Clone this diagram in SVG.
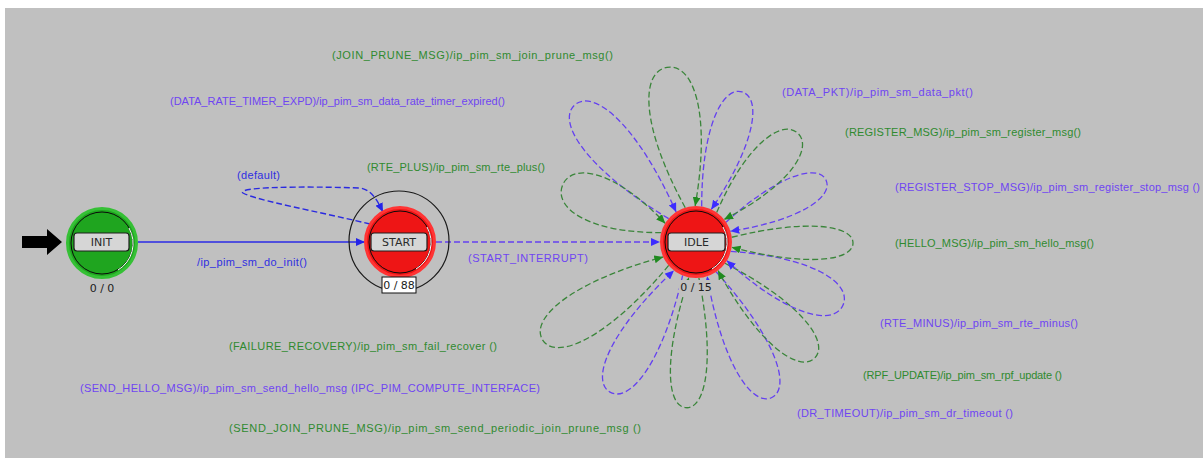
<svg xmlns="http://www.w3.org/2000/svg" width="1203" height="463" viewBox="0 0 1203 463">
<style>
.lbl{font-family:"Liberation Sans",Arial,sans-serif;font-size:11px}
.pu{fill:#6f45f2}
.gr{fill:#2f8a2f}
.bl{fill:#2f2fe0}
.ppath{fill:none;stroke:#6440f0;stroke-width:1.3;stroke-dasharray:6 3;marker-end:url(#ap)}
.gpath{fill:none;stroke:#3a853a;stroke-width:1.3;stroke-dasharray:6 3;marker-end:url(#ag)}
.box{fill:#d6d6d6;stroke:#1e1e1e;stroke-width:1.2}
.nlbl{font-family:"DejaVu Sans","Liberation Sans",sans-serif;font-size:11px;fill:#2a2a2a;text-anchor:middle}
.cnt{font-family:"DejaVu Sans","Liberation Sans",sans-serif;font-size:11px;fill:#202020;text-anchor:middle}
</style>
<defs>
<marker id="ap" markerWidth="9" markerHeight="8" refX="9" refY="4" orient="auto" markerUnits="userSpaceOnUse"><path d="M0,0L9,4L0,8z" fill="#3c2cff"/></marker>
<marker id="ag" markerWidth="9" markerHeight="8" refX="9" refY="4" orient="auto" markerUnits="userSpaceOnUse"><path d="M0,0L9,4L0,8z" fill="#1f8a1f"/></marker>
<marker id="ab" markerWidth="9" markerHeight="8" refX="9" refY="4" orient="auto" markerUnits="userSpaceOnUse"><path d="M0,0L9,4L0,8z" fill="#2424e8"/></marker>
</defs>
<rect x="0" y="0" width="1203" height="463" fill="#ffffff"/>
<rect x="5" y="8" width="1198" height="450" fill="#c0c0c0"/>

<g id="connectors">
<polygon points="22,236 47,236 47,229 62,242 47,255 47,248 22,248" fill="#000"/>
<line x1="138" y1="242" x2="365" y2="242" stroke="#2a2ae6" stroke-width="1.3" marker-end="url(#ab)"/>
<path d="M370,224 C320,212 255,200 243,193 C236,187 300,186 360,188 C372,190 377,200 383,212" fill="none" stroke="#2a2ae0" stroke-width="1.4" stroke-dasharray="6 3" marker-end="url(#ab)"/>
<line x1="436" y1="242" x2="660" y2="242" class="ppath"/>
<g transform="translate(696,242)">
<path class="gpath" transform="rotate(-99.4)" d="M35.6,-5C124,-36 177,-27 177,0C177,27 124,36 35.6,5"/>
<path class="ppath" transform="rotate(-131.5)" d="M35.6,-5C128,-34 183,-25 183,0C183,25 128,34 35.6,5"/>
<path class="gpath" transform="rotate(-156.8)" d="M35.6,-5C102,-34 145,-25 145,0C145,25 102,34 35.6,5"/>
<path class="gpath" transform="rotate(147.4)" d="M35.6,-5C127,-34 182,-25 182,0C182,25 127,34 35.6,5"/>
<path class="ppath" transform="rotate(119.8)" d="M35.6,-5C121,-31 173,-23 173,0C173,23 121,31 35.6,5"/>
<path class="gpath" transform="rotate(93.4)" d="M35.6,-5C116,-26 166,-20 166,0C166,20 116,26 35.6,5"/>
<path class="ppath" transform="rotate(64)" d="M35.6,-5C121,-30 173,-22 173,0C173,22 121,30 35.6,5"/>
<path class="gpath" transform="rotate(44.3)" d="M35.6,-5C116,-30 166,-22 166,0C166,22 116,30 35.6,5"/>
<path class="ppath" transform="rotate(23.2)" d="M35.6,-5C112,-32 160,-24 160,0C160,24 112,32 35.6,5"/>
<path class="gpath" transform="rotate(0.4)" d="M35.6,-5C110,-24 157,-18 157,0C157,18 110,24 35.6,5"/>
<path class="ppath" transform="rotate(-25.5)" d="M35.6,-5C101,-25 144,-19 144,0C144,19 101,25 35.6,5"/>
<path class="gpath" transform="rotate(-46.9)" d="M35.6,-5C104,-30 149,-22 149,0C149,22 104,30 35.6,5"/>
<path class="ppath" transform="rotate(-72.9)" d="M35.6,-5C110,-28 157,-21 157,0C157,21 110,28 35.6,5"/>
</g>
<text class="lbl bl" x="197" y="266" textLength="110">/ip_pim_sm_do_init()</text>
<text class="lbl bl" x="237" y="179" textLength="43">(default)</text>
<text class="lbl pu" x="468" y="262" textLength="120">(START_INTERRUPT)</text>
<text class="lbl gr" x="332" y="59" textLength="281">(JOIN_PRUNE_MSG)/ip_pim_sm_join_prune_msg()</text>
<text class="lbl pu" x="170" y="105" textLength="335">(DATA_RATE_TIMER_EXPD)/ip_pim_sm_data_rate_timer_expired()</text>
<text class="lbl gr" x="367" y="171" textLength="178">(RTE_PLUS)/ip_pim_sm_rte_plus()</text>
<text class="lbl pu" x="782" y="96" textLength="191">(DATA_PKT)/ip_pim_sm_data_pkt()</text>
<text class="lbl gr" x="845" y="136" textLength="236">(REGISTER_MSG)/ip_pim_sm_register_msg()</text>
<text class="lbl pu" x="895" y="191" textLength="305">(REGISTER_STOP_MSG)/ip_pim_sm_register_stop_msg ()</text>
<text class="lbl gr" x="895" y="247" textLength="199">(HELLO_MSG)/ip_pim_sm_hello_msg()</text>
<text class="lbl pu" x="880" y="327" textLength="198">(RTE_MINUS)/ip_pim_sm_rte_minus()</text>
<text class="lbl gr" x="863" y="379" textLength="199">(RPF_UPDATE)/ip_pim_sm_rpf_update ()</text>
<text class="lbl pu" x="797" y="417" textLength="216">(DR_TIMEOUT)/ip_pim_sm_dr_timeout ()</text>
<text class="lbl gr" x="229" y="350" textLength="268">(FAILURE_RECOVERY)/ip_pim_sm_fail_recover ()</text>
<text class="lbl pu" x="80" y="392" textLength="460">(SEND_HELLO_MSG)/ip_pim_sm_send_hello_msg (IPC_PIM_COMPUTE_INTERFACE)</text>
<text class="lbl gr" x="229" y="432" textLength="412">(SEND_JOIN_PRUNE_MSG)/ip_pim_sm_send_periodic_join_prune_msg ()</text>
</g>

<g id="node-init">
<circle cx="102" cy="243" r="34.5" fill="#1fa51f" stroke="#35c035" stroke-width="3"/>
<circle cx="102" cy="243" r="31" fill="none" stroke="#0a0a0a" stroke-width="1"/>
<path d="M129,228 A31,31 0 0 1 118,270" fill="none" stroke="#ffffff" stroke-width="1"/>
<rect class="box" x="74" y="233" width="55" height="18" rx="3"/>
<text class="nlbl" x="101.5" y="246">INIT</text>
<text class="cnt" x="102" y="292">0 / 0</text>
</g>

<g id="node-start">
<circle cx="399" cy="241" r="50" fill="none" stroke="#1a1a1a" stroke-width="1.2"/>
<circle cx="400" cy="242" r="34.5" fill="#ee1515" stroke="#ff3434" stroke-width="3"/>
<circle cx="400" cy="242" r="31" fill="none" stroke="#0a0a0a" stroke-width="1"/>
<path d="M427,227 A31,31 0 0 1 416,269" fill="none" stroke="#ffffff" stroke-width="1"/>
<rect class="box" x="371" y="233" width="56" height="18" rx="3"/>
<text class="nlbl" x="399" y="246">START</text>
<rect x="382" y="277" width="34" height="16" fill="#ffffff" stroke="#111" stroke-width="1"/>
<text class="cnt" x="399" y="289">0 / 88</text>
</g>

<g id="node-idle">
<circle cx="696" cy="242" r="34.5" fill="#ee1515" stroke="#ff3434" stroke-width="3"/>
<circle cx="696" cy="242" r="31" fill="none" stroke="#0a0a0a" stroke-width="1"/>
<path d="M723,227 A31,31 0 0 1 712,269" fill="none" stroke="#ffffff" stroke-width="1"/>
<rect class="box" x="668" y="233" width="57" height="18" rx="3"/>
<text class="nlbl" x="696.5" y="246">IDLE</text>
<rect x="679" y="280" width="34" height="15" fill="#c0c0c0"/>
<text class="cnt" x="696" y="291">0 / 15</text>
</g>
</svg>
